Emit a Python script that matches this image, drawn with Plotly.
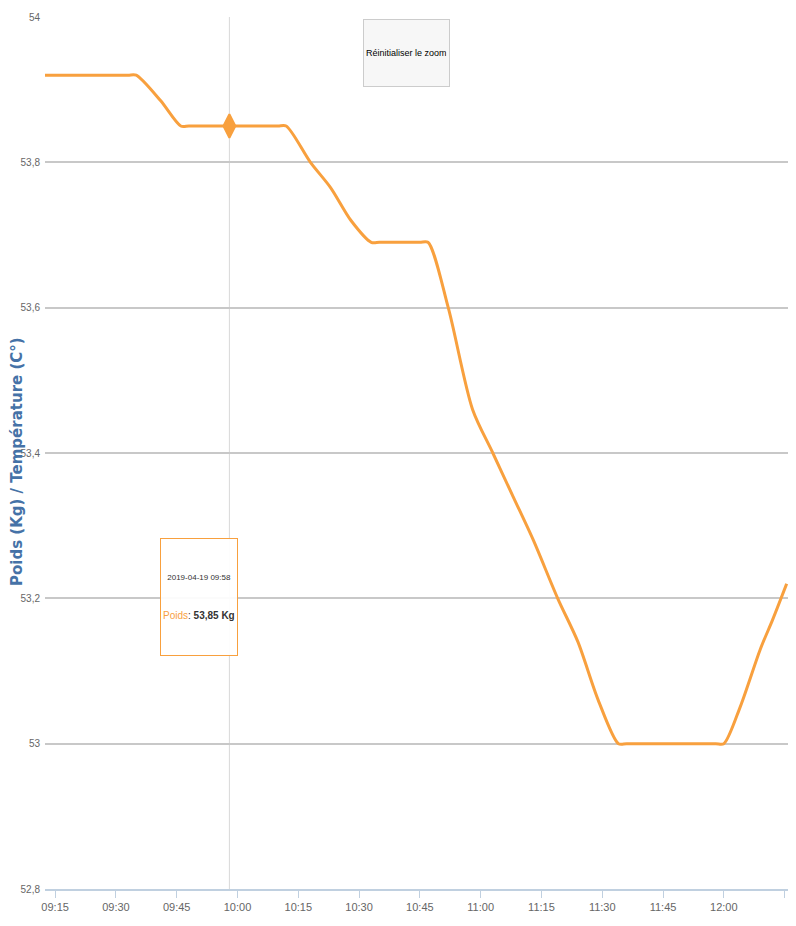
import pandas as pd
import plotly.graph_objects as go

JOUR = "2019-04-19"
HEURES = ["09:12:30", "09:20", "09:27", "09:33", "09:35", "09:41", "09:46", "09:48",
          "09:53", "09:58", "10:05", "10:10", "10:12", "10:18", "10:23", "10:28",
          "10:33", "10:35", "10:40", "10:45", "10:47", "10:52", "10:58", "11:03",
          "11:08", "11:13", "11:19", "11:24", "11:29", "11:34", "11:36", "11:42",
          "11:50", "11:58", "12:00", "12:04", "12:09", "12:12", "12:15:30"]
POIDS = [53.92, 53.92, 53.92, 53.92, 53.92, 53.885, 53.85, 53.85,
         53.85, 53.85, 53.85, 53.85, 53.85, 53.80, 53.765, 53.72,
         53.69, 53.69, 53.69, 53.69, 53.69, 53.60, 53.46, 53.40,
         53.34, 53.28, 53.20, 53.14, 53.06, 53.00, 53.00, 53.00,
         53.00, 53.00, 53.00, 53.05, 53.13, 53.17, 53.22]
Y_TICKS = [52.8, 53.0, 53.2, 53.4, 53.6, 53.8, 54.0]
HOVER_IDX = 9

ORANGE = "#f8a03e"
POLICE = "Liberation Sans, Arial, sans-serif"

temps = pd.to_datetime([f"{JOUR} {h}" for h in HEURES], format="mixed")

fig = go.Figure()
fig.add_trace(go.Scatter(
    x=temps, y=POIDS, mode="lines",
    line=dict(color=ORANGE, width=3, shape="spline", smoothing=0.8),
    showlegend=False, hoverinfo="skip"
))

# point survolé + réticule (marqueur étiré verticalement comme dans l'original)
t_h, p_h = temps[HOVER_IDX], POIDS[HOVER_IDX]
fig.add_vline(x=t_h, line=dict(color="#d8d8d8", width=1), layer="below")
fig.add_trace(go.Scatter(
    x=[t_h], y=[p_h], mode="markers",
    marker=dict(color=ORANGE, symbol="diamond-tall", size=17,
                line=dict(color=ORANGE, width=2)),
    showlegend=False, hoverinfo="skip"
))

valeur = f"{p_h:.2f}".replace(".", ",")
fig.add_annotation(
    xref="paper", yref="paper", x=(199 - 45) / 743, y=(889 - 597) / 872,
    text=(f"<span style='font-size:8px'>{t_h:%Y-%m-%d %H:%M}</span><br><br><br>"
          f"<span style='color:{ORANGE}'>Poids</span>: <b>{valeur} Kg</b>"),
    showarrow=False, align="center",
    font=dict(family=POLICE, size=10, color="#333333"),
    bgcolor="rgba(255,255,255,0.92)", bordercolor=ORANGE, borderwidth=1,
    borderpad=2, height=112, xanchor="center", yanchor="middle"
)

fig.add_annotation(
    xref="paper", yref="paper", x=(406 - 45) / 743, y=(889 - 53) / 872,
    text="Réinitialiser le zoom", showarrow=False,
    font=dict(family=POLICE, size=9, color="#000000"),
    bgcolor="#f7f7f7", bordercolor="#cccccc", borderwidth=1,
    borderpad=2, height=62, xanchor="center", yanchor="middle"
)

fig.add_annotation(
    xref="paper", yref="paper", x=(17 - 45) / 743, y=(889 - 462) / 872,
    text="<b>Poids (Kg) / Température (C°)</b>", textangle=-90,
    showarrow=False, xanchor="center", yanchor="middle",
    font=dict(family="DejaVu Sans, sans-serif", size=15, color="#4572a7")
)

# la page ajoute 8 px de marge au corps : on compense ici
fig.update_layout(
    width=788, height=918,
    margin=dict(l=37, r=8, t=9, b=37),
    plot_bgcolor="white", paper_bgcolor="white",
    separators=", ",
    xaxis=dict(
        range=[f"{JOUR} 09:12:30", f"{JOUR} 12:15:50"],
        tickformat="%H:%M", dtick=15 * 60 * 1000, tick0=f"{JOUR} 09:15",
        showgrid=False, showline=True, linecolor="#c0d0e0", linewidth=2,
        ticks="outside", ticklen=7, tickcolor="#c0d0e0", tickwidth=1,
        tickfont=dict(family=POLICE, size=11, color="#666666"),
        zeroline=False, automargin=False
    ),
    yaxis=dict(
        range=[52.8, 54.0], tickvals=Y_TICKS,
        showgrid=True, gridcolor="#c8c8c8", gridwidth=2,
        zeroline=False, ticks="", ticklabelstandoff=4, automargin=False,
        tickfont=dict(family=POLICE, size=10, color="#666666")
    )
)

fig.write_html("out.html")
